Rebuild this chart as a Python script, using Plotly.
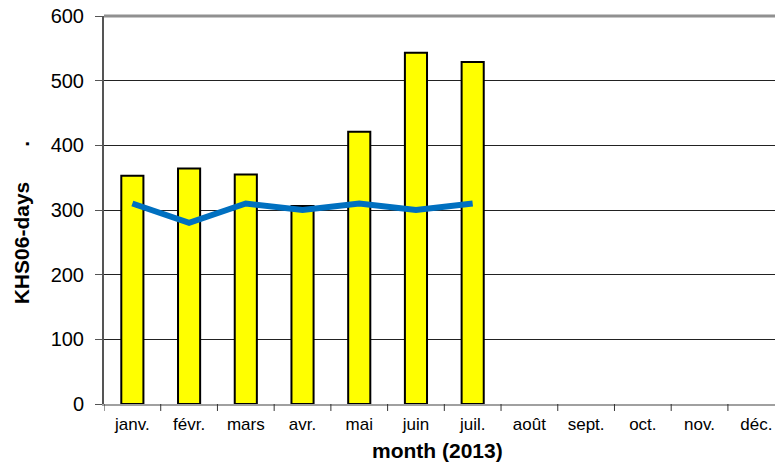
import plotly.graph_objects as go

months = ["janv.", "févr.", "mars", "avr.", "mai", "juin", "juil.", "août", "sept.", "oct.", "nov.", "déc."]
bar_values = [353, 364, 355, 306, 421, 543, 529, None, None, None, None, None]
line_values = [310, 280, 310, 300, 310, 300, 310]
y_ticks = [0, 100, 200, 300, 400, 500, 600]

x_idx = list(range(len(months)))

fig = go.Figure()
fig.add_trace(go.Bar(
    x=x_idx, y=bar_values, width=0.39,
    marker=dict(color="#FFFF00", line=dict(color="black", width=2)),
    showlegend=False, hoverinfo="y",
))
fig.add_trace(go.Scatter(
    x=x_idx[:len(line_values)], y=line_values, mode="lines",
    line=dict(color="#0070C0", width=6),
    showlegend=False,
))

font = "Liberation Sans, Arial, sans-serif"
fig.update_layout(
    width=775, height=467,
    margin=dict(l=104, r=0, t=16, b=63),
    plot_bgcolor="white", paper_bgcolor="white",
    font=dict(family=font, color="black"),
    xaxis=dict(
        range=[-0.5, 11.33], automargin=False,
        tickmode="array", tickvals=x_idx, ticktext=months,
        tickfont=dict(size=17), showgrid=False,
        showline=True, linecolor="#a0a0a0", linewidth=2,
        ticks="", zeroline=False, ticklabeloverflow="allow",
        ticklabelstandoff=4,
    ),
    yaxis=dict(
        range=[0, 600], automargin=False,
        tickmode="array", tickvals=y_ticks,
        tickfont=dict(size=20), ticklabeloverflow="allow",
        showgrid=True, gridcolor="#222222", gridwidth=1,
        showline=True, linecolor="#555555", linewidth=2,
        ticks="outside", ticklen=7, tickcolor="#555555",
        zeroline=False, ticklabelstandoff=7,
    ),
    shapes=[
        dict(type="line", xref="paper", yref="paper", x0=0, x1=1, y0=1, y1=1,
             line=dict(color="#909090", width=3)),
    ] + [
        dict(type="line", xref="x", yref="paper", x0=i + 0.5, x1=i + 0.5, y0=0, y1=-0.018,
             line=dict(color="#333333", width=1))
        for i in range(-1, 11)
    ],
    annotations=[
        dict(text="<b>KHS06-days" + "\u00a0" * 6 + ".</b>", xref="paper", yref="paper",
             x=-0.1225, y=0.4678, xanchor="center", yanchor="middle",
             showarrow=False, textangle=-90, font=dict(size=21)),
        dict(text="<b>month (2013)</b>", xref="paper", yref="paper",
             x=0.4963, y=-0.1186, xanchor="center", yanchor="middle",
             showarrow=False, font=dict(size=21)),
    ],
)

fig.write_html(
    "out.html",
    config={"displayModeBar": False},
    post_script="document.body.style.margin='0';document.body.style.overflow='hidden';",
)
